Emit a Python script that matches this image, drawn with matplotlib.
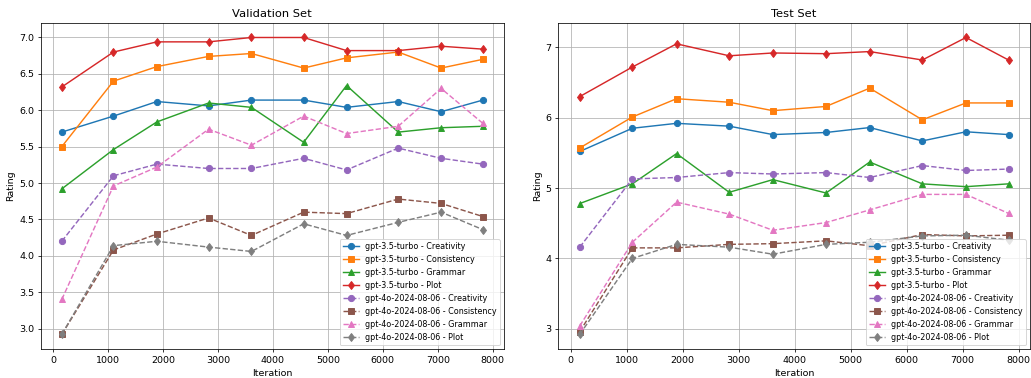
import matplotlib
matplotlib.use("Agg")
import matplotlib.pyplot as plt

iterations = [160, 1100, 1890, 2830, 3610, 4560, 5340, 6280, 7060, 7820]
aspects = ["Creativity", "Consistency", "Grammar", "Plot"]
models = ["gpt-3.5-turbo", "gpt-4o-2024-08-06"]

val_gpt35_creativity = [5.70, 5.92, 6.12, 6.06, 6.14, 6.14, 6.04, 6.12, 5.98, 6.14]
val_gpt35_consistency = [5.50, 6.40, 6.60, 6.74, 6.78, 6.58, 6.72, 6.80, 6.58, 6.70]
val_gpt35_grammar = [4.92, 5.46, 5.84, 6.10, 6.04, 5.56, 6.34, 5.70, 5.76, 5.78]
val_gpt35_plot = [6.32, 6.80, 6.94, 6.94, 7.00, 7.00, 6.82, 6.82, 6.88, 6.84]
val_gpt4o_creativity = [4.20, 5.10, 5.26, 5.20, 5.20, 5.34, 5.18, 5.48, 5.34, 5.26]
val_gpt4o_consistency = [2.92, 4.08, 4.30, 4.52, 4.28, 4.60, 4.58, 4.78, 4.72, 4.54]
val_gpt4o_grammar = [3.40, 4.96, 5.22, 5.74, 5.52, 5.92, 5.68, 5.78, 6.30, 5.82]
val_gpt4o_plot = [2.92, 4.14, 4.20, 4.12, 4.06, 4.44, 4.28, 4.46, 4.60, 4.36]

test_gpt35_creativity = [5.52, 5.85, 5.92, 5.88, 5.76, 5.79, 5.86, 5.67, 5.80, 5.76]
test_gpt35_consistency = [5.57, 6.01, 6.27, 6.22, 6.10, 6.16, 6.42, 5.97, 6.21, 6.21]
test_gpt35_grammar = [4.78, 5.06, 5.49, 4.94, 5.12, 4.93, 5.37, 5.06, 5.02, 5.06]
test_gpt35_plot = [6.30, 6.72, 7.05, 6.88, 6.92, 6.91, 6.94, 6.82, 7.14, 6.82]
test_gpt4o_creativity = [4.16, 5.13, 5.15, 5.22, 5.20, 5.22, 5.15, 5.32, 5.25, 5.27]
test_gpt4o_consistency = [2.96, 4.15, 4.15, 4.20, 4.21, 4.25, 4.18, 4.34, 4.32, 4.33]
test_gpt4o_grammar = [3.04, 4.23, 4.80, 4.63, 4.40, 4.51, 4.69, 4.91, 4.91, 4.64]
test_gpt4o_plot = [2.92, 4.00, 4.20, 4.16, 4.06, 4.20, 4.23, 4.32, 4.33, 4.26]

val_data = {
    "gpt-3.5-turbo": [val_gpt35_creativity, val_gpt35_consistency, val_gpt35_grammar, val_gpt35_plot],
    "gpt-4o-2024-08-06": [val_gpt4o_creativity, val_gpt4o_consistency, val_gpt4o_grammar, val_gpt4o_plot],
}
test_data = {
    "gpt-3.5-turbo": [test_gpt35_creativity, test_gpt35_consistency, test_gpt35_grammar, test_gpt35_plot],
    "gpt-4o-2024-08-06": [test_gpt4o_creativity, test_gpt4o_consistency, test_gpt4o_grammar, test_gpt4o_plot],
}

markers = ["o", "s", "^", "d"]
colors = ["#1f77b4", "#ff7f0e", "#2ca02c", "#d62728",
          "#9467bd", "#8c564b", "#e377c2", "#7f7f7f"]
linestyles = {"gpt-3.5-turbo": "-", "gpt-4o-2024-08-06": "--"}

fig = plt.figure(figsize=(15, 5.5), dpi=1031 / 15)
ax1 = fig.add_axes([0.0395, 0.076, 0.4493, 0.864])
ax2 = fig.add_axes([0.5415, 0.076, 0.4575, 0.864])

for ax, data, title in [(ax1, val_data, "Validation Set"), (ax2, test_data, "Test Set")]:
    ci = 0
    for m in models:
        for j, a in enumerate(aspects):
            ax.plot(iterations, data[m][j], marker=markers[j], linestyle=linestyles[m],
                    color=colors[ci], markersize=6.5, label=f"{m} - {a}")
            ci += 1
    ax.set_title(title)
    ax.set_xlabel("Iteration")
    ax.set_ylabel("Rating")
    ax.grid(True)
    ax.legend(loc="lower right", fontsize="small")

fig.savefig("out.png", dpi=1031 / 15)
